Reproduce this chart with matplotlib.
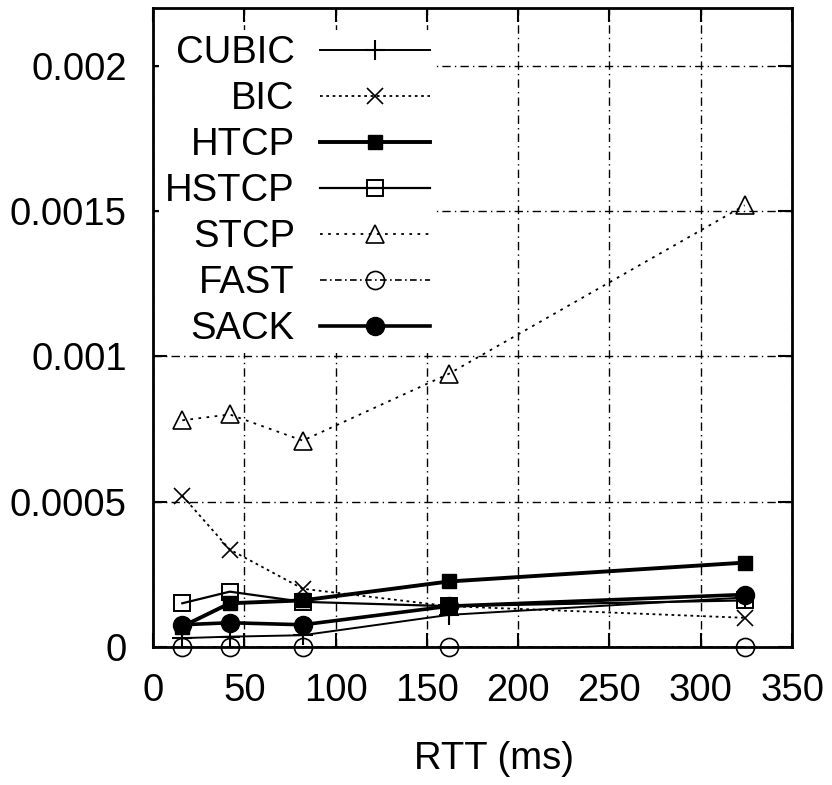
import matplotlib
matplotlib.use('Agg')
from matplotlib import pyplot as plt

plt.rcParams['font.family'] = ['Liberation Sans', 'DejaVu Sans']

# base RTT of each run (ms)
rtt = [16, 42, 82, 162, 324]

cubic = [0.00003, 0.000035, 0.00004, 0.00011, 0.00017]
bic = [0.00052, 0.000335, 0.0002, 0.00014, 0.0001]
htcp = [0.00007, 0.00015, 0.00016, 0.000225, 0.00029]
hstcp = [0.00015, 0.00019, 0.000155, 0.00014, 0.00016]
stcp = [0.00078, 0.0008, 0.00071, 0.00094, 0.00152]
fast = [0.0, 0.0, 0.0, 0.0, 0.0]
sack = [0.000076, 0.000083, 0.000076, 0.00014, 0.00018]

names = ['CUBIC', 'BIC', 'HTCP', 'HSTCP', 'STCP', 'FAST', 'SACK']
series = [cubic, bic, htcp, hstcp, stcp, fast, sack]

xticks = [0, 50, 100, 150, 200, 250, 300, 350]
yticks = [0, 0.0005, 0.001, 0.0015, 0.002]
ytick_labels = ['0', '0.0005', '0.001', '0.0015', '0.002']

# gnuplot-ish monochrome line types
styles = {
    'CUBIC': dict(ls='-', lw=1.4, marker='+', ms=15, mfc='none', mew=1.5),
    'BIC': dict(ls=(0, (1.5, 2)), lw=1.3, marker='x', ms=11, mfc='none', mew=1.2),
    'HTCP': dict(ls='-', lw=2.8, marker='s', ms=10, mfc='black', mew=1),
    'HSTCP': dict(ls='-', lw=1.6, marker='s', ms=12, mfc='none', mew=1.4),
    'STCP': dict(ls=(0, (1.5, 3)), lw=1.3, marker='^', ms=13, mfc='none', mew=1.2),
    'FAST': dict(ls=(0, (4, 2, 1, 2)), lw=1.2, marker='o', ms=13, mfc='none', mew=1.2),
    'SACK': dict(ls='-', lw=2.6, marker='o', ms=13, mfc='black', mew=1),
}

fs = 27.5

fig = plt.figure(figsize=(8.32, 7.85), dpi=100)
ax = fig.add_axes([0.184, 0.176, 0.768, 0.814])

for name, ys in zip(names, series):
    ax.plot(rtt, ys, color='black', label=name, clip_on=False, **styles[name])

ax.set_xlim(0, 350)
ax.set_ylim(0, 0.0022)
ax.set_xticks(xticks)
ax.set_xticklabels([str(v) for v in xticks])
ax.set_yticks(yticks)
ax.set_yticklabels(ytick_labels)

ax.grid(True, color='black', lw=1.0, ls=(0, (6, 3, 1, 3)))
ax.set_axisbelow(True)
for sp in ax.spines.values():
    sp.set_linewidth(2)

ax.tick_params(direction='in', length=10, width=1.5, top=True, right=True,
               labelsize=fs, pad=19)
ax.set_xlabel('RTT (ms)', fontsize=fs)
ax.xaxis.set_label_coords(0.534, -0.148)

# text first, sample after it: columns come out right-aligned
leg = ax.legend(loc='upper left', bbox_to_anchor=(0.01, 0.966), fontsize=fs,
                markerfirst=False, handlelength=2.9, handletextpad=0.65,
                labelspacing=0.26, borderpad=0.15, borderaxespad=0,
                frameon=True, fancybox=False, edgecolor='none',
                facecolor='white', framealpha=1)

fig.savefig('out.png', dpi=100)
